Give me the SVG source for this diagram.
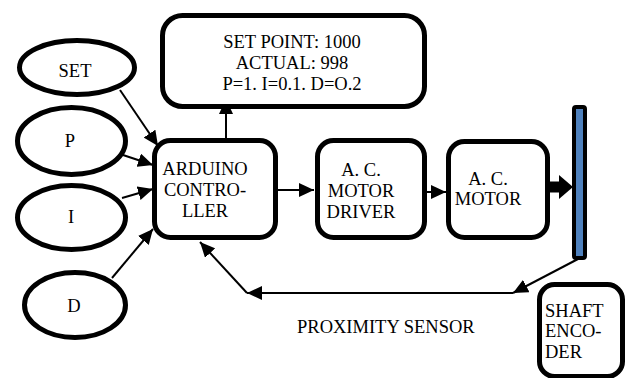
<svg xmlns="http://www.w3.org/2000/svg" width="629" height="378" viewBox="0 0 629 378">
<style>
.box{fill:#fff;stroke:#000;stroke-width:5}
.ell{fill:#fff;stroke:#000;stroke-width:5}
text{font-family:"Liberation Serif","Times New Roman",Times,Tinos,"DejaVu Serif",serif;font-size:18.5px;fill:#000}
.c{text-anchor:middle}
.ln{fill:none;stroke:#000;stroke-width:2}
</style>
<defs>
<marker id="ah" markerUnits="userSpaceOnUse" markerWidth="15" markerHeight="14" refX="15" refY="7" orient="auto">
<path d="M0,0 L15,7 L0,14 z" fill="#000"/>
</marker>
</defs>
<g id="connectors">
<line class="ln" x1="120" y1="90" x2="158" y2="146" marker-end="url(#ah)"/>
<line class="ln" x1="123" y1="155" x2="153" y2="165" marker-end="url(#ah)"/>
<line class="ln" x1="122" y1="198" x2="153" y2="189" marker-end="url(#ah)"/>
<line class="ln" x1="112" y1="278" x2="153" y2="229" marker-end="url(#ah)"/>
<line class="ln" x1="226" y1="138" x2="226" y2="99" marker-end="url(#ah)"/>
<line class="ln" x1="278" y1="190" x2="314" y2="190" marker-end="url(#ah)"/>
<line class="ln" x1="427" y1="192" x2="446" y2="192" marker-end="url(#ah)"/>
<line x1="549" y1="187" x2="562" y2="187" stroke="#000" stroke-width="11"/>
<polygon points="559,175 573,187 559,199" fill="#000"/>
<line class="ln" x1="578" y1="259" x2="513" y2="293" marker-end="url(#ah)"/>
<line class="ln" x1="513" y1="293" x2="247" y2="293" marker-end="url(#ah)"/>
<line class="ln" x1="247" y1="293" x2="200" y2="242" marker-end="url(#ah)"/>
</g>
<g id="set">
<ellipse class="ell" cx="77" cy="67.5" rx="57.5" ry="27"/>
<text class="c" x="75" y="77">SET</text>
</g>
<g id="p">
<ellipse class="ell" cx="71.5" cy="141" rx="54" ry="33.5"/>
<text class="c" x="70" y="147">P</text>
</g>
<g id="i">
<ellipse class="ell" cx="71.5" cy="217.5" rx="54" ry="32"/>
<text class="c" x="71" y="223">I</text>
</g>
<g id="d">
<ellipse class="ell" cx="75" cy="305" rx="50.5" ry="32.5"/>
<text class="c" x="74" y="312">D</text>
</g>
<g id="display">
<rect class="box" x="162.5" y="15.5" width="262" height="91" rx="20"/>
<text class="c" x="292" y="48">SET POINT: 1000</text>
<text class="c" x="292" y="69">ACTUAL: 998</text>
<text class="c" x="292" y="90">P=1. I=0.1. D=O.2</text>
</g>
<g id="arduino">
<rect class="box" x="154.5" y="140.5" width="121" height="97" rx="16"/>
<text class="c" x="205" y="175">ARDUINO</text>
<text class="c" x="205" y="196">CONTRO-</text>
<text class="c" x="205" y="217">LLER</text>
</g>
<g id="driver">
<rect class="box" x="317.5" y="140.5" width="107" height="97" rx="16"/>
<text class="c" x="361" y="176">A. C.</text>
<text class="c" x="361" y="197">MOTOR</text>
<text class="c" x="361" y="218">DRIVER</text>
</g>
<g id="motor">
<rect class="box" x="448.5" y="141.5" width="99" height="96" rx="16"/>
<text class="c" x="488" y="185">A. C.</text>
<text class="c" x="488" y="205">MOTOR</text>
</g>
<g id="shaft">
<rect x="574" y="107" width="11" height="151" rx="2" fill="#4F81BD" stroke="#000" stroke-width="4"/>
</g>
<g id="encoder">
<rect class="box" x="539.5" y="284.5" width="83" height="92" rx="15"/>
<text x="545" y="317">SHAFT</text>
<text x="545" y="337">ENCO-</text>
<text x="545" y="358">DER</text>
</g>
<g id="sensor-label">
<text x="297" y="333">PROXIMITY SENSOR</text>
</g>
</svg>
